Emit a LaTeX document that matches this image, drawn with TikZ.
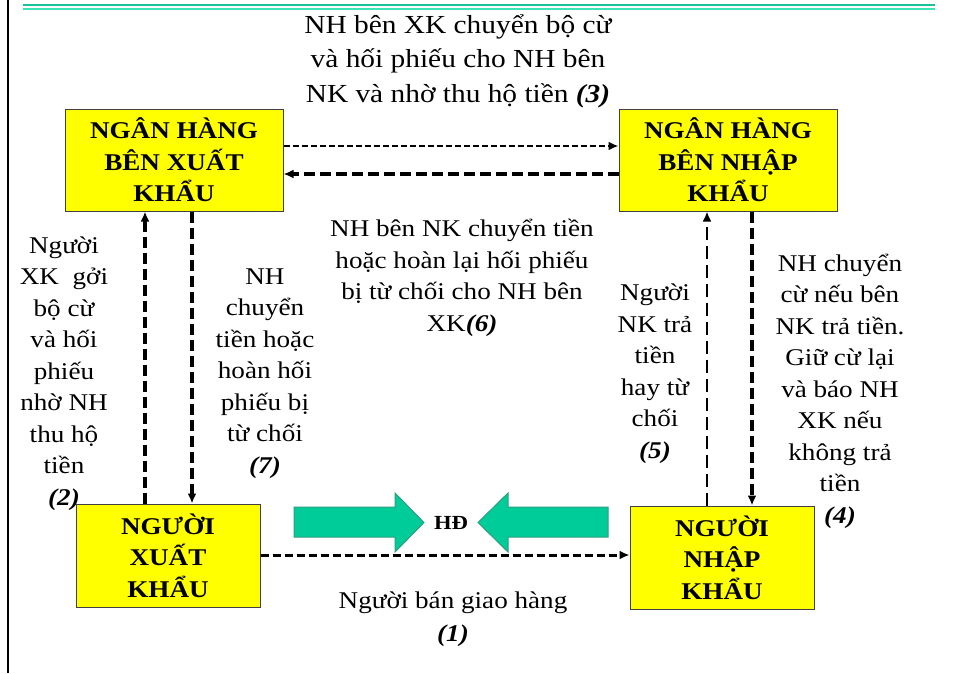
\documentclass[tikz,border=0pt]{standalone}
\usepackage{fontspec}
\setmainfont[FakeStretch=1.13]{Liberation Serif}
\usetikzlibrary{arrows.meta}
\definecolor{boxyellow}{HTML}{FFFF00}
\definecolor{arrowgreen}{HTML}{00CC99}
\definecolor{arrowedge}{HTML}{2E9E7E}
\definecolor{ruleA}{HTML}{19C39A}
\definecolor{ruleB}{HTML}{3DE3B5}
\tikzset{
  party/.style={draw=black!75, line width=1pt, fill=boxyellow, align=center,
    inner sep=0pt, font=\fontsize{24}{31.5}\selectfont\bfseries},
  lbl/.style={align=center, inner sep=0pt, font=\fontsize{24}{31.5}\selectfont},
  tip/.style={-{Latex[length=10pt,width=9pt]}},
  thickflow/.style={tip, line width=3.8pt, dash pattern=on 11pt off 5pt},
  thinflow/.style={tip, line width=2pt, dash pattern=on 6pt off 3pt},
  midflow/.style={tip, line width=3pt, dash pattern=on 8pt off 4pt},
  longflow/.style={tip, line width=2.5pt, dash pattern=on 13pt off 6pt},
  blockarrow/.style={fill=arrowgreen, draw=arrowedge, line width=1pt, line join=miter},
}
\newcommand{\stepno}[1]{\textbf{\textit{(#1)}}}
\begin{document}
\begin{tikzpicture}[x=1pt, y=-1pt]
\useasboundingbox (0,0) rectangle (955,673);

% page frame: left rule and double header rule
\draw[line width=2.5pt] (8,0) -- (8,673);
\draw[ruleA, line width=2pt] (23,4.5) -- (935,4.5);
\draw[ruleB, line width=2pt] (23,8.5) -- (935,8.5);

% the four parties
\node[party, minimum width=218pt, minimum height=102pt] (bxk) at (174,160)
  {NGÂN HÀNG\\BÊN XUẤT\\KHẨU};
\node[party, minimum width=218pt, minimum height=102pt] (bnk) at (728,160)
  {NGÂN HÀNG\\BÊN NHẬP\\KHẨU};
\node[party, minimum width=184pt, minimum height=103pt] (nxk) at (168,555.5)
  {NGƯỜI\\XUẤT\\KHẨU};
\node[party, minimum width=184pt, minimum height=103pt] (nnk) at (722,557.5)
  {NGƯỜI\\NHẬP\\KHẨU};

% contract between buyer and seller
\filldraw[blockarrow] (294,507) -- (395,507) -- (395,493) -- (424,522.5)
  -- (395,552) -- (395,537) -- (294,537) -- cycle;
\filldraw[blockarrow] (608,507) -- (508,507) -- (508,493) -- (478,522.5)
  -- (508,552) -- (508,537) -- (608,537) -- cycle;
\node[font=\fontsize{20}{24}\selectfont\bfseries] (hd) at (451,522.5) {HĐ};

% flows
\draw[midflow] (nxk.east |- 0,555) -- (nnk.west |- 0,555);
\draw[thickflow] (145,0 |- nxk.north) -- (145,0 |- bxk.south);
\draw[thickflow] (192,0 |- bxk.south) -- (192,0 |- nxk.north);
\draw[thinflow] (bxk.east |- 0,146) -- (bnk.west |- 0,146);
\draw[thickflow] (bnk.west |- 0,174) -- (bxk.east |- 0,174);
\draw[longflow] (707,0 |- nnk.north) -- (707,0 |- bnk.south);
\draw[thickflow] (752,0 |- bnk.south) -- (752,0 |- nnk.north);

% step descriptions (anchored on the baseline of their last line)
\node[lbl, anchor=base, font=\fontsize{26}{34.5}\selectfont] (l3) at (458,102)
  {NH bên XK chuyển bộ cừ\\và hối phiếu cho NH bên\\NK và nhờ thu hộ tiền \stepno{3}};
\node[lbl, anchor=base] (l6) at (462,331)
  {NH bên NK chuyển tiền\\hoặc hoàn lại hối phiếu\\bị từ chối cho NH bên\\XK\stepno{6}};
\node[lbl, anchor=base] (l2) at (64,505)
  {Người\\XK~~gởi\\bộ cừ\\và hối\\phiếu\\nhờ NH\\thu hộ\\tiền\\\stepno{2}};
\node[lbl, anchor=base] (l7) at (265,473)
  {NH\\chuyển\\tiền hoặc\\hoàn hối\\phiếu bị\\từ chối\\\stepno{7}};
\node[lbl, anchor=base] (l5) at (655,458)
  {Người\\NK trả\\tiền\\hay từ\\chối\\\stepno{5}};
\node[lbl, anchor=base] (l4) at (840,523)
  {NH chuyển\\cừ nếu bên\\NK trả tiền.\\Giữ cừ lại\\và báo NH\\XK nếu\\không trả\\tiền\\\stepno{4}};
\node[lbl, anchor=base, font=\fontsize{24}{33}\selectfont] (l1) at (453,641)
  {Người bán giao hàng\\\stepno{1}};
\end{tikzpicture}
\end{document}
